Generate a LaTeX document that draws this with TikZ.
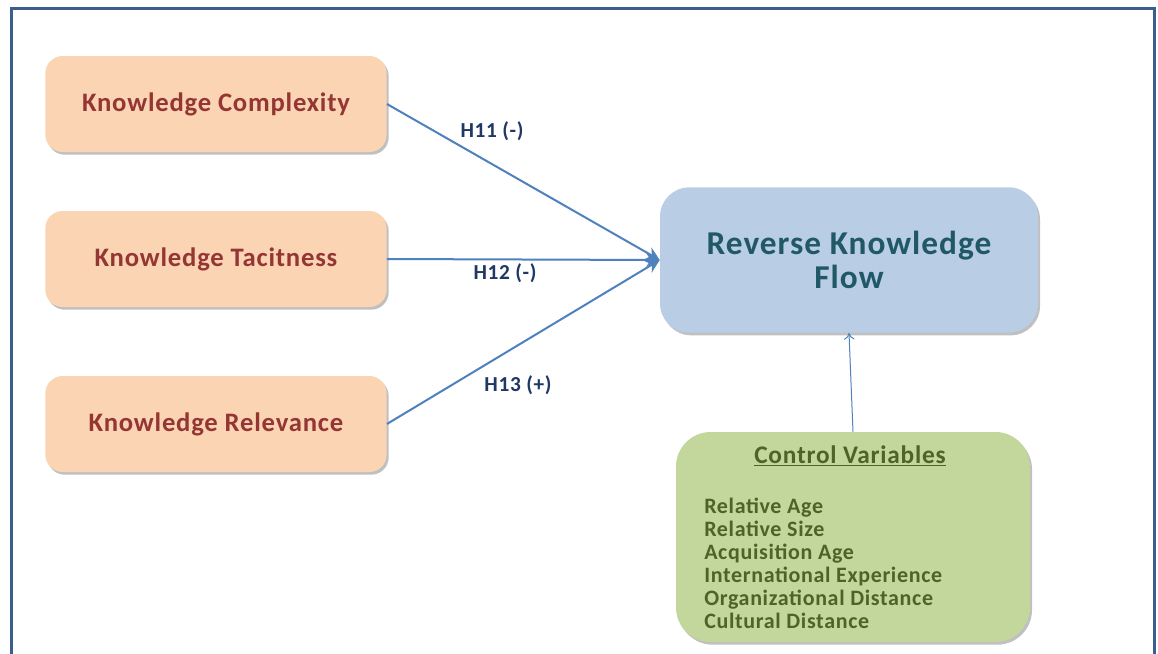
\documentclass[tikz,border=0pt]{standalone}
\usepackage{fontspec}
\setmainfont{Carlito}[LetterSpace=3]
\usetikzlibrary{arrows.meta,shadows}
\definecolor{peachfill}{HTML}{FBD4B4}
\definecolor{peachtext}{HTML}{943634}
\definecolor{flowfill}{HTML}{B9CDE5}
\definecolor{flowtext}{HTML}{215868}
\definecolor{ctrlfill}{HTML}{C3D69B}
\definecolor{ctrltext}{HTML}{4F6228}
\definecolor{arrowblue}{HTML}{4F81BD}
\definecolor{framecol}{HTML}{3B5E8C}
\definecolor{hypcol}{HTML}{1F3864}
\tikzset{
  boxshadow/.style={drop shadow={shadow xshift=1.5pt,shadow yshift=-2pt,opacity=0.35,fill=black!70}},
  factor/.style={fill=peachfill,rounded corners=13pt,minimum width=256pt,minimum height=72pt,
    text=peachtext,font=\fontsize{20}{24}\selectfont\bfseries,boxshadow},
  hyp/.style={text=hypcol,font=\fontsize{16}{18}\selectfont\bfseries},
  link/.style={draw=arrowblue,line width=1.5pt,-{Stealth[length=10pt,width=10pt]}}
}
\begin{document}
\begin{tikzpicture}[x=0.75pt,y=-0.75pt]
    \useasboundingbox (0,0) rectangle (1158,654);
    \fill[white] (0,0) rectangle (1158,654);
    \draw[framecol,line width=2.25pt] (11,660) -- (11,8) -- (1154,8) -- (1154,660);
    % independent variables
    \node[factor] (kc) at (216,104) {Knowledge Complexity};
    \node[factor] (kt) at (216,259) {Knowledge Tacitness};
    \node[factor] (kr) at (216,424) {Knowledge Relevance};
    % dependent variable
    \node[fill=flowfill,rounded corners=22pt,minimum width=283.5pt,minimum height=109pt,
        text=flowtext,align=center,font=\fontsize{25}{25.5}\selectfont\bfseries,boxshadow]
        (rkf) at (849,260) {Reverse Knowledge\\Flow};
    % controls
    \node[fill=ctrlfill,rounded corners=26pt,minimum width=265.5pt,minimum height=157.5pt,boxshadow]
        (cv) at (853,537) {};
    \node[text=ctrltext,font=\fontsize{19}{22}\selectfont\bfseries,anchor=base]
        (cvtitle) at (850,463) {\underline{Control Variables}};
    \node[text=ctrltext,font=\fontsize{16.5}{17.25}\selectfont\bfseries,align=left,anchor=north west,inner sep=0pt]
        (cvlist) at (704,498) {Relative Age\\Relative Size\\Acquisition Age\\International Experience\\Organizational Distance\\Cultural Distance};
    % paths
    \draw[link] (kc.east) -- (rkf.west);
    \draw[link] (kt.east) -- (rkf.west);
    \draw[link] (kr.east) -- (rkf.west);
    \draw[arrowblue,line width=0.75pt,-{To[length=5pt,width=8pt]}] (cv.north) -- (rkf.south);
    \node[hyp] (h11) at (492,131) {H11 (-)};
    \node[hyp] (h12) at (505,273) {H12 (-)};
    \node[hyp] (h13) at (518,385) {H13 (+)};
\end{tikzpicture}
\end{document}
